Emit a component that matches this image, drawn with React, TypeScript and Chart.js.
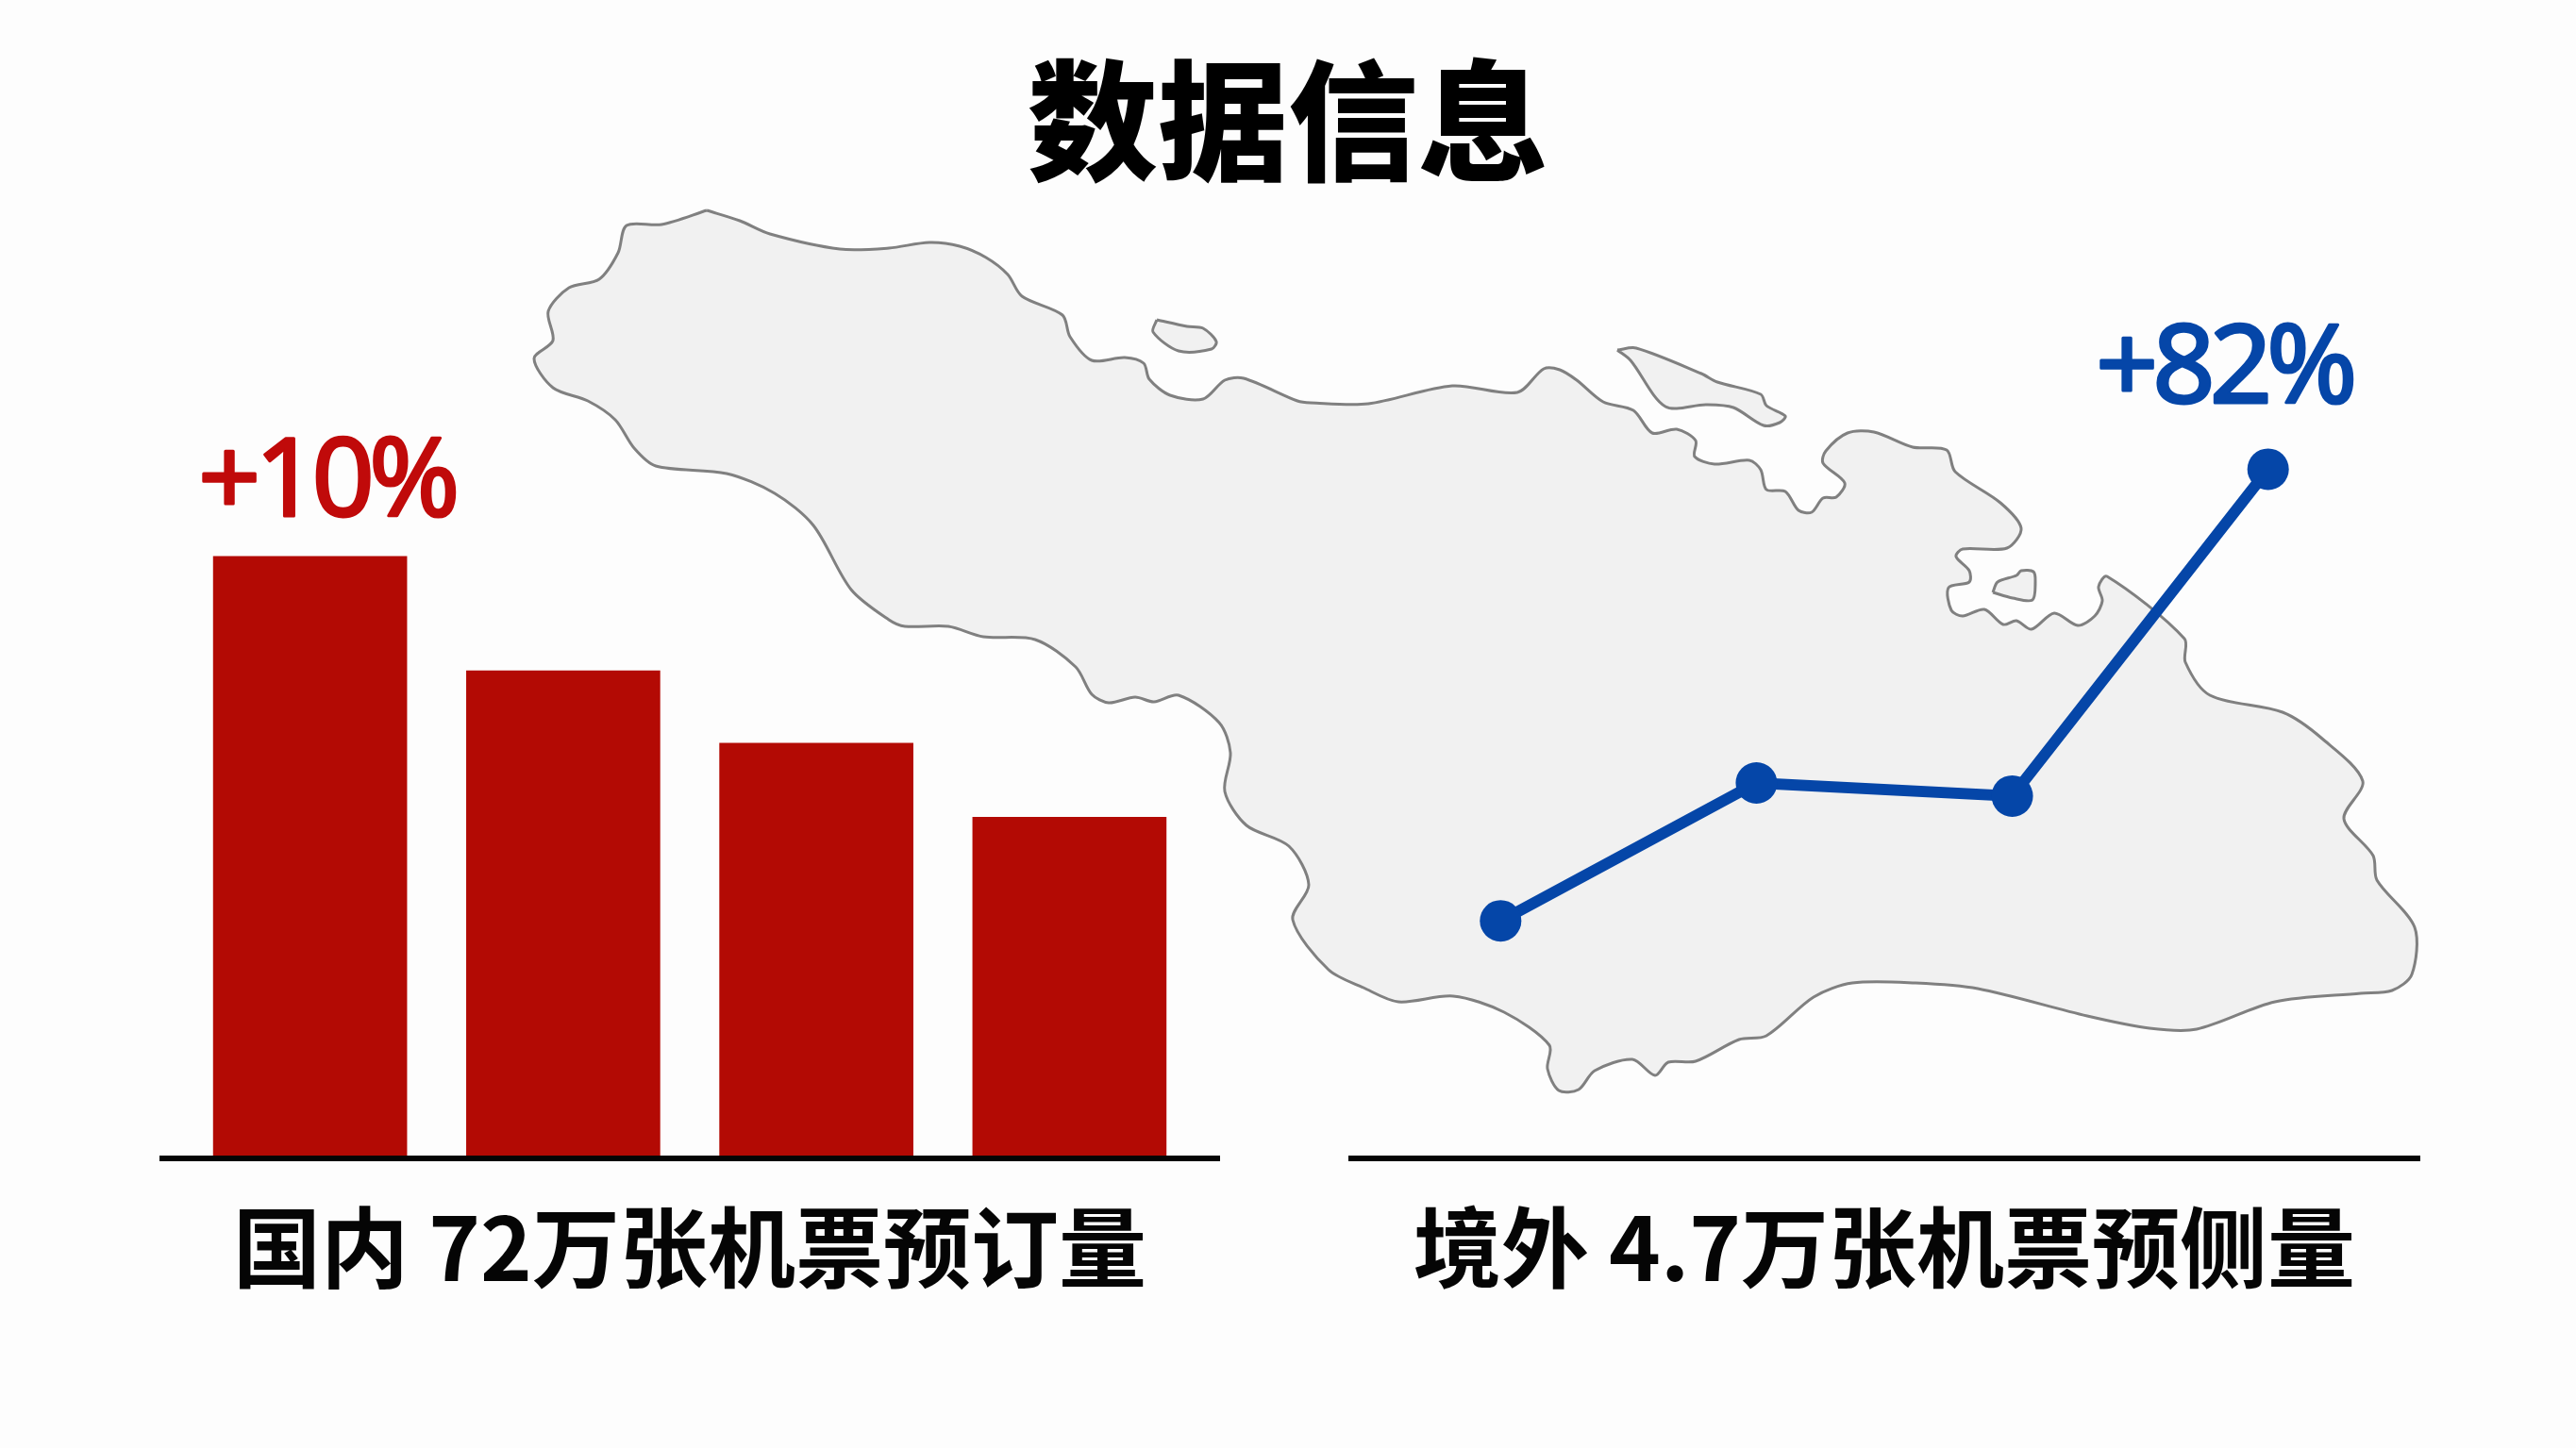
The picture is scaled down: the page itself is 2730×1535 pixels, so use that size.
import React, { useEffect, useRef } from "react";
import { Chart, registerables } from "chart.js";

Chart.register(...registerables);

const pageTitle = "数据信息";
const domesticCaption = "国内 72万张机票预订量";
const overseasCaption = "境外 4.7万张机票预侧量";
const domesticChange = "+10%";
const overseasChange = "+82%";

const barValues = [100, 81, 69, 56.7];
const lineValues = [34.5, 54.5, 52.6, 100];

// Decorative map, traced as outline points in the page's own coordinates.
const mapMainland: [number, number][] = [
  [749,223],[784,234],[816,248],[890,264],[942,263],[985,257],[1017,261],[1045,273],[1068,291],[1083,314],[1126,334],[1134,357],[1157,382],
  [1192,379],[1212,385],[1218,402],[1240,419],[1275,423],[1298,403],[1318,401],[1375,425],[1389,427],[1450,428],[1539,409],[1608,416],
  [1636,391],[1653,392],[1671,403],[1699,426],[1731,435],[1751,459],[1777,455],[1797,467],[1796,484],[1817,492],[1854,488],[1866,498],
  [1872,519],[1892,521],[1906,541],[1920,543],[1932,528],[1946,527],[1955,512],[1932,491],[1935,478],[1958,459],[1986,458],[2027,474],
  [2063,477],[2072,500],[2120,533],[2142,560],[2127,581],[2080,582],[2073,590],[2087,605],[2087,617],[2065,623],[2068,647],[2080,653],
  [2103,646],[2123,662],[2137,658],[2153,667],[2177,650],[2202,663],[2220,653],[2228,637],[2224,622],[2233,611],[2315,677],[2316,702],
  [2342,737],[2419,755],[2461,783],[2504,828],[2484,868],[2515,907],[2519,933],[2559,983],[2556,1033],[2535,1050],[2502,1053],[2411,1062],
  [2328,1091],[2278,1090],[2212,1077],[2096,1048],[2030,1042],[1963,1042],[1922,1057],[1872,1098],[1843,1102],[1797,1125],[1768,1126],
  [1754,1140],[1730,1123],[1690,1135],[1673,1155],[1652,1156],[1640,1133],[1642,1108],[1594,1073],[1540,1056],[1482,1062],[1445,1047],
  [1408,1028],[1370,975],[1387,938],[1366,897],[1321,875],[1298,839],[1304,798],[1292,766],[1249,737],[1223,744],[1203,739],[1175,745],
  [1157,736],[1140,707],[1097,678],[1042,675],[1005,664],[959,664],[942,657],[902,625],[862,557],[821,523],[770,502],[695,494],[672,475],
  [652,445],[623,425],[586,411],[566,380],[586,361],[581,330],[603,305],[635,296],[655,268],[664,239],[701,238],[749,223],
];
const mapIslandWest: [number, number][] = [[1226,339],[1258,346],[1275,348],[1289,362],[1284,370],[1249,372],[1222,352],[1226,339]];
const mapIslandNorth: [number, number][] = [
  [1714,371],[1734,369],[1803,396],[1820,405],[1866,418],[1872,430],[1892,441],[1886,448],[1869,451],[1837,432],[1808,429],[1765,431],[1728,382],[1714,371],
];
const mapIslandEast: [number, number][] = [[2112,628],[2117,617],[2137,610],[2142,605],[2155,606],[2157,617],[2154,636],[2133,634],[2112,628]];

const PAGE_W = 2730;
const PAGE_H = 1535;
const CJK = '"Noto Sans CJK SC", "Noto Sans", sans-serif';
const RED = "#b30a04";
const BLUE = "#0546a8";
const TITLE_TOP = 59;
const TITLE_SIZE = 138;

const asPoints = (values: number[]) => values.map((y, x) => ({ x, y }));
const asXY = (pts: [number, number][]) => pts.map(([x, y]) => ({ x, y }));

const changeLabel = (text: string, color: string, dx: number, dy: number) => ({
  id: "changeLabel",
  afterDatasetsDraw(chart: any) {
    const meta = chart.getDatasetMeta(0);
    const anchorIndex = text === domesticChange ? 0 : meta.data.length - 1;
    const el = meta.data[anchorIndex];
    const { ctx } = chart;
    ctx.save();
    ctx.font = '400 116px "Noto Sans", sans-serif';
    (ctx as any).letterSpacing = "-6px";
    ctx.fillStyle = color;
    ctx.strokeStyle = color;
    ctx.lineWidth = 3;
    ctx.lineJoin = "round";
    ctx.textAlign = "center";
    ctx.textBaseline = "alphabetic";
    ctx.strokeText(text, el.x + dx, el.y + dy);
    ctx.fillText(text, el.x + dx, el.y + dy);
    ctx.restore();
  },
});

const xAxis = (caption: string) => ({
  type: "linear",
  min: -0.595,
  max: 3.595,
  offset: false,
  grid: { display: false, drawTicks: false },
  ticks: { display: false },
  border: { display: true, color: "#050505", width: 6, z: 2 },
  title: {
    display: true,
    text: caption,
    color: "#050505",
    font: { family: CJK, size: 93, weight: "700", lineHeight: 1.2 },
    padding: { top: 38, bottom: 2 },
  },
});

const yAxis = (max: number) => ({
  type: "linear",
  min: 0,
  max,
  display: false,
});

const common = {
  animation: false,
  responsive: false,
  maintainAspectRatio: false,
  events: [],
  layout: { padding: 0, autoPadding: false },
};

export default function App() {
  const mapRef = useRef<HTMLCanvasElement>(null);
  const barRef = useRef<HTMLCanvasElement>(null);
  const lineRef = useRef<HTMLCanvasElement>(null);

  useEffect(() => {
    const outline = (pts: [number, number][]) => ({
      data: asXY(pts),
      showLine: true,
      fill: "shape",
      backgroundColor: "#f1f1f1",
      borderColor: "#808080",
      borderWidth: 3,
      pointRadius: 0,
      tension: 0.3,
    });
    const map = new Chart(mapRef.current!, {
      type: "scatter",
      data: { datasets: [outline(mapMainland), outline(mapIslandWest), outline(mapIslandNorth), outline(mapIslandEast)] },
      options: {
        ...common,
        plugins: {
          legend: { display: false },
          tooltip: { enabled: false },
          title: {
            display: true,
            text: pageTitle,
            color: "#000000",
            font: { family: CJK, size: TITLE_SIZE, weight: "900", lineHeight: 1 },
            padding: { top: TITLE_TOP, bottom: 0 },
          },
        },
        scales: {
          x: { type: "linear", min: 0, max: PAGE_W, display: false },
          y: { type: "linear", min: TITLE_TOP + TITLE_SIZE, max: PAGE_H, reverse: true, display: false },
        },
      },
    } as any);

    const bar = new Chart(barRef.current!, {
      type: "bar",
      data: { datasets: [{ data: asPoints(barValues), backgroundColor: RED, barThickness: 205, borderWidth: 0 }] },
      options: {
        ...common,
        plugins: { legend: { display: false }, tooltip: { enabled: false } },
        scales: { x: xAxis(domesticCaption), y: yAxis(126.6) },
      },
      plugins: [changeLabel(domesticChange, "#c00a0a", 17, -43)],
    } as any);

    const line = new Chart(lineRef.current!, {
      type: "line",
      data: {
        datasets: [{
          data: asPoints(lineValues),
          borderColor: BLUE,
          borderWidth: 12,
          backgroundColor: BLUE,
          pointBackgroundColor: BLUE,
          pointBorderWidth: 0,
          pointRadius: 22,
          tension: 0,
          fill: false,
          clip: false,
        }],
      },
      options: {
        ...common,
        plugins: { legend: { display: false }, tooltip: { enabled: false } },
        scales: { x: xAxis(overseasCaption), y: yAxis(127) },
      },
      plugins: [changeLabel(overseasChange, BLUE, -47, -70)],
    } as any);

    return () => {
      map.destroy();
      bar.destroy();
      line.destroy();
    };
  }, []);

  const place = (left: number, top: number): React.CSSProperties => ({ position: "absolute", left, top, display: "block" });

  return (
    <div style={{ position: "fixed", left: 0, top: 0, width: PAGE_W, height: PAGE_H, background: "#fdfdfd", overflow: "hidden" }}>
      <canvas ref={mapRef} width={PAGE_W} height={PAGE_H} style={place(0, 0)} />
      <canvas ref={barRef} width={1124} height={960} style={place(169, 420)} />
      <canvas ref={lineRef} width={1136} height={1080} style={place(1429, 300)} />
    </div>
  );
}
